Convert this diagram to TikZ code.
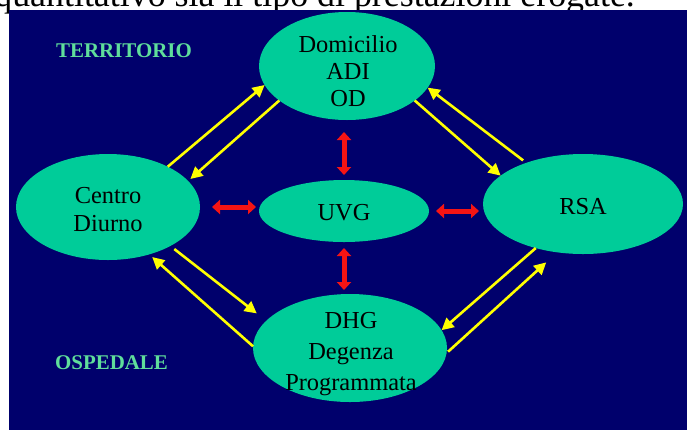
\documentclass[tikz,border=0pt]{standalone}
\usepackage{fontspec}
\setmainfont{Liberation Serif}
\usetikzlibrary{arrows.meta,shapes.geometric}
\definecolor{navy}{RGB}{0,0,108}
\definecolor{tealfill}{RGB}{0,204,153}
\definecolor{lblgreen}{RGB}{95,222,155}
\definecolor{yel}{RGB}{255,255,0}
\definecolor{redarr}{RGB}{245,20,20}
\begin{document}
\begin{tikzpicture}[x=1bp,y=-1bp,
  blob/.style={ellipse, fill=tealfill, draw=none, inner sep=0pt, outer sep=0pt},
  txt/.style={align=center, inner sep=0pt, text=black},
  side/.style={font=\fontsize{21}{24}\selectfont\bfseries, text=lblgreen, inner sep=0pt},
  yarrow/.style={draw=yel, line width=2.6bp, -{Triangle[width=12bp,length=12bp]}},
  rarrow/.style={draw=redarr, line width=5bp, {Triangle[width=14bp,length=8bp]}-{Triangle[width=14bp,length=8bp]}}
]
\useasboundingbox (0,0) rectangle (687,430);
\fill[white] (0,0) rectangle (687,430);
\begin{scope}
\clip (0,0) rectangle (687,430);
\node[anchor=base east, inner sep=0pt, font=\fontsize{36}{40}\selectfont] (intro) at (635,6) {quantitativo sia il tipo di prestazioni erogate.};
\end{scope}
\fill[navy] (9,10) rectangle (687,430);

% ellipses
\node[blob, minimum width=176bp, minimum height=108bp] (dom) at (347,66) {};
\node[blob, minimum width=184bp, minimum height=106bp] (cd) at (108,207) {};
\node[blob, minimum width=200bp, minimum height=100bp] (rsa) at (583,204) {};
\node[blob, minimum width=170bp, minimum height=62bp] (uvg) at (344,211) {};
\node[blob, minimum width=194bp, minimum height=108bp] (dhg) at (350,348) {};

% texts
\node[txt, font=\fontsize{24.5}{27}\selectfont] (domt) at (348,71.5) {Domicilio\\ADI\\OD};
\node[txt, font=\fontsize{24.5}{29}\selectfont] (cdt) at (108,209.5) {Centro\\Diurno};
\node[txt, font=\fontsize{24.5}{29}\selectfont] (rsat) at (583,207) {RSA};
\node[txt, font=\fontsize{24.5}{29}\selectfont] (uvgt) at (344,213) {UVG};
\node[txt, font=\fontsize{24.5}{31}\selectfont] (dhgt) at (351,353.7) {DHG\\Degenza\\Programmata};

\node[side] (terr) at (124,51) {TERRITORIO};
\node[side] (osp) at (111.5,363) {OSPEDALE};

% yellow arrows
\draw[yarrow] (cd.34) -- (dom.193);
\draw[yarrow, shorten >=3bp] (dom.207) -- (cd.18);
\draw[yarrow, shorten <=4bp] (rsa.144) -- (dom.345);
\draw[yarrow] (dom.333) -- (rsa.161);
\draw[yarrow, shorten <=5bp, shorten >=12bp] (cd.328) -- (dhg.162);
\draw[yarrow, shorten >=4bp] (dhg.179) -- (cd.311);
\draw[yarrow] (rsa.223) -- (dhg.11);
\draw[yarrow, shorten <=2bp, shorten >=15bp] (dhg.357) -- (rsa.242);

% red arrows
\draw[rarrow, shorten <=12bp, shorten >=5bp] (uvg.north |- dom.south) -- (uvg.north);
\draw[rarrow, shorten <=6bp, shorten >=4bp] (uvg.south) -- (uvg.south |- dhg.north);
\draw[rarrow, shorten <=12bp, shorten >=3bp] (cd.east) -- (cd.east -| uvg.west);
\draw[rarrow, shorten <=7bp, shorten >=4bp] (uvg.east) -- (uvg.east -| rsa.west);
\end{tikzpicture}
\end{document}
